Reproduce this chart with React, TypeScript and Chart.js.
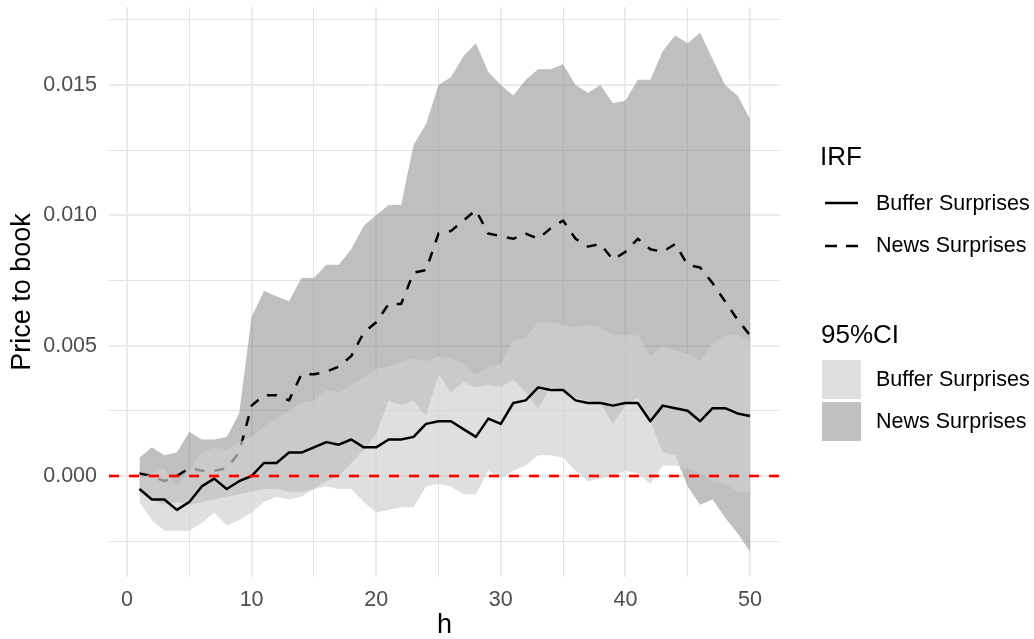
import React, { useEffect, useRef } from "react";
import { Chart, registerables } from "chart.js";

Chart.register(...registerables);

// ---------------- data ----------------
const horizons = [
  1, 2, 3, 4, 5, 6, 7, 8, 9, 10, 11, 12, 13, 14, 15, 16, 17, 18, 19, 20,
  21, 22, 23, 24, 25, 26, 27, 28, 29, 30, 31, 32, 33, 34, 35, 36, 37, 38, 39, 40,
  41, 42, 43, 44, 45, 46, 47, 48, 49, 50,
];

const bufferIRF = [
  -0.0005, -0.0009, -0.0009, -0.0013, -0.001, -0.0004, -0.0001, -0.0005, -0.0002, 0.0,
  0.0005, 0.0005, 0.0009, 0.0009, 0.0011, 0.0013, 0.0012, 0.0014, 0.0011, 0.0011,
  0.0014, 0.0014, 0.0015, 0.002, 0.0021, 0.0021, 0.0018, 0.0015, 0.0022, 0.002,
  0.0028, 0.0029, 0.0034, 0.0033, 0.0033, 0.0029, 0.0028, 0.0028, 0.0027, 0.0028,
  0.0028, 0.0021, 0.0027, 0.0026, 0.0025, 0.0021, 0.0026, 0.0026, 0.0024, 0.0023,
];

const newsIRF = [
  0.0001, 0.0, -0.0002, 0.0, 0.0003, 0.0002, 0.0002, 0.0003, 0.0009, 0.0027,
  0.0031, 0.0031, 0.0029, 0.0039, 0.0039, 0.004, 0.0042, 0.0046, 0.0055, 0.0059,
  0.0066, 0.0066, 0.0078, 0.0079, 0.0093, 0.0094, 0.0098, 0.0102, 0.0093, 0.0092,
  0.0091, 0.0093, 0.0091, 0.0095, 0.0098, 0.0091, 0.0088, 0.0089, 0.0083, 0.0086,
  0.0091, 0.0087, 0.0086, 0.0089, 0.0081, 0.008, 0.0074, 0.0067, 0.006, 0.0054,
];

const newsUpper = [
  0.0007, 0.0011, 0.0008, 0.0009, 0.0017, 0.0014, 0.0014, 0.0015, 0.0024, 0.0061,
  0.0071, 0.0069, 0.0067, 0.0076, 0.0076, 0.0081, 0.0081, 0.0087, 0.0096, 0.01,
  0.0104, 0.0104, 0.0127, 0.0135, 0.015, 0.0153, 0.0161, 0.0166, 0.0155, 0.015,
  0.0146, 0.0152, 0.0156, 0.0156, 0.0158, 0.015, 0.0147, 0.015, 0.0143, 0.0144,
  0.0152, 0.0152, 0.0163, 0.0169, 0.0166, 0.017, 0.016, 0.015, 0.0146, 0.0137,
];

const newsLower = [
  -0.0006, -0.0009, -0.0011, -0.001, -0.0011, -0.001, -0.0009, -0.0008, -0.0007, -0.0006,
  -0.0005, -0.0005, -0.0006, -0.0006, -0.0005, -0.0002, 0.0, 0.0005, 0.001, 0.0016,
  0.0029, 0.0027, 0.0029, 0.0023, 0.0039, 0.0032, 0.0036, 0.0034, 0.0035, 0.0034,
  0.0037, 0.0032, 0.0026, 0.0034, 0.0033, 0.003, 0.0029, 0.0028, 0.002, 0.0027,
  0.003, 0.0021, 0.0009, 0.0008, -0.0004, -0.0011, -0.0009, -0.0016, -0.0022, -0.0029,
];

const bufferUpper = [
  -0.0001, 0.0001, 0.0003, -0.0004, 0.0002, 0.0009, 0.0011, 0.001, 0.0013, 0.0015,
  0.0019, 0.0022, 0.0025, 0.0028, 0.0029, 0.0033, 0.0032, 0.0035, 0.0038, 0.0041,
  0.0042, 0.0044, 0.0045, 0.0044, 0.0046, 0.0045, 0.0043, 0.0039, 0.0042, 0.0043,
  0.0052, 0.0053, 0.0059, 0.0059, 0.0058, 0.0057, 0.0058, 0.0057, 0.0054, 0.0054,
  0.0054, 0.0046, 0.005, 0.0048, 0.0047, 0.0044, 0.0051, 0.0054, 0.0054, 0.0052,
];

const bufferLower = [
  -0.001, -0.0017, -0.0021, -0.0021, -0.0021, -0.0018, -0.0014, -0.0019, -0.0017, -0.0014,
  -0.001, -0.0008, -0.0009, -0.0008, -0.0005, -0.0004, -0.0005, -0.0005, -0.001, -0.0014,
  -0.0013, -0.0012, -0.0012, -0.0004, -0.0003, -0.0004, -0.0007, -0.0007, 0.0002, -0.0001,
  0.0002, 0.0004, 0.0008, 0.0008, 0.0007, 0.0002, -0.0002, -0.0001, 0.0, 0.0002,
  0.0001, -0.0003, 0.0004, 0.0004, 0.0003, 0.0001, -0.0002, -0.0003, -0.0006, -0.0006,
];

const referenceLevel = [0];

const xTicks = [0, 5, 10, 15, 20, 25, 30, 35, 40, 45, 50];
const xLabelTicks = [0, 10, 20, 30, 40, 50];
const yTicks = [-0.0025, 0, 0.0025, 0.005, 0.0075, 0.01, 0.0125, 0.015, 0.0175];
const yLabelTicks = [0, 0.005, 0.01, 0.015];

const X_MIN = -1.445;
const X_MAX = 52.41;
const Y_MIN = -0.003875;
const Y_MAX = 0.017992;

// ---------------- styles ----------------
const FONT = "'Liberation Sans', Arial, Helvetica, sans-serif";
const NEWS_FILL = "rgba(128,128,128,0.5)";
const BUFFER_FILL = "rgba(208,208,208,0.68)";
const NEWS_KEY = "#c0c0c0";
const BUFFER_KEY = "#dfdfdf";
const TRANSPARENT = "rgba(0,0,0,0)";

const near = (list: number[], v: number) => list.some((t) => Math.abs(t - v) < 1e-9);

const pts = (arr: number[]) => horizons.map((h, i) => ({ x: h, y: arr[i] }));

export default function App() {
  const canvasRef = useRef<HTMLCanvasElement | null>(null);

  useEffect(() => {
    if (!canvasRef.current) return;
    const chart = new Chart(canvasRef.current, {
      type: "line",
      data: {
        datasets: [
          {
            label: "News CI upper",
            data: pts(newsUpper),
            fill: "+1",
            backgroundColor: NEWS_FILL,
            borderColor: TRANSPARENT,
            borderWidth: 0,
            pointRadius: 0,
            tension: 0,
            order: 60,
          },
          {
            label: "News CI lower",
            data: pts(newsLower),
            fill: false,
            borderColor: TRANSPARENT,
            borderWidth: 0,
            pointRadius: 0,
            tension: 0,
            order: 59,
          },
          {
            label: "News Surprises",
            data: pts(newsIRF),
            fill: false,
            borderColor: "#000000",
            borderWidth: 2.5,
            borderDash: [10, 10],
            borderJoinStyle: "round",
            borderCapStyle: "butt",
            pointRadius: 0,
            tension: 0,
            order: 50,
          },
          {
            label: "Buffer CI upper",
            data: pts(bufferUpper),
            fill: "+1",
            backgroundColor: BUFFER_FILL,
            borderColor: TRANSPARENT,
            borderWidth: 0,
            pointRadius: 0,
            tension: 0,
            order: 40,
          },
          {
            label: "Buffer CI lower",
            data: pts(bufferLower),
            fill: false,
            borderColor: TRANSPARENT,
            borderWidth: 0,
            pointRadius: 0,
            tension: 0,
            order: 39,
          },
          {
            label: "Buffer Surprises",
            data: pts(bufferIRF),
            fill: false,
            borderColor: "#000000",
            borderWidth: 2.5,
            borderJoinStyle: "round",
            pointRadius: 0,
            tension: 0,
            order: 30,
          },
          {
            label: "zero",
            data: [
              { x: X_MIN, y: referenceLevel[0] },
              { x: X_MAX, y: referenceLevel[0] },
            ],
            fill: false,
            borderColor: "#ff0000",
            borderWidth: 2.7,
            borderDash: [10, 10],
            pointRadius: 0,
            order: 10,
          },
        ],
      },
      options: {
        responsive: false,
        animation: false,
        events: [],
        layout: { padding: { top: 7, right: 254, bottom: 0, left: 0 } },
        plugins: {
          legend: { display: false },
          tooltip: { enabled: false },
          filler: { propagate: false },
        },
        scales: {
          x: {
            type: "linear",
            min: X_MIN,
            max: X_MAX,
            afterBuildTicks: (s: any) => {
              s.ticks = xTicks.map((v) => ({ value: v }));
            },
            afterFit: (s: any) => {
              s.height = 62;
              s.paddingLeft = 0;
              s.paddingRight = 0;
            },
            border: { display: false },
            grid: {
              drawTicks: false,
              color: (c: any) => (near(xLabelTicks, c.tick?.value) ? "#ebebeb" : "#e3e3e3"),
              lineWidth: (c: any) => (near(xLabelTicks, c.tick?.value) ? 2 : 1),
            },
            ticks: {
              autoSkip: false,
              maxRotation: 0,
              padding: 10,
              color: "#4d4d4d",
              font: { family: FONT, size: 21.5 },
              callback: (v: any) => (near(xLabelTicks, Number(v)) ? String(Number(v)) : ""),
            },
            title: {
              display: true,
              text: "h",
              color: "#000000",
              font: { family: FONT, size: 27, lineHeight: 1 },
              padding: { top: 0, bottom: 0 },
            },
          },
          y: {
            type: "linear",
            min: Y_MIN,
            max: Y_MAX,
            afterBuildTicks: (s: any) => {
              s.ticks = yTicks.map((v) => ({ value: v }));
            },
            afterFit: (s: any) => {
              s.width = 109;
              s.paddingTop = 0;
              s.paddingBottom = 0;
            },
            border: { display: false },
            grid: {
              drawTicks: false,
              color: (c: any) => (near(yLabelTicks, c.tick?.value) ? "#ebebeb" : "#e3e3e3"),
              lineWidth: (c: any) => (near(yLabelTicks, c.tick?.value) ? 2 : 1),
            },
            ticks: {
              padding: 12,
              color: "#4d4d4d",
              font: { family: FONT, size: 21.5 },
              callback: (v: any) => (near(yLabelTicks, Number(v)) ? Number(v).toFixed(3) : ""),
            },
            title: {
              display: true,
              text: "Price to book",
              color: "#000000",
              font: { family: FONT, size: 27, lineHeight: 1 },
              padding: { top: 9, bottom: 0 },
            },
          },
        },
      },
    } as any);
    return () => chart.destroy();
  }, []);

  const text = (content: string, left: number, top: number, size: number) => (
    <div
      style={{
        position: "absolute",
        left,
        top,
        fontFamily: FONT,
        fontSize: size,
        lineHeight: `${size}px`,
        color: "#000",
        whiteSpace: "nowrap",
      }}
    >
      {content}
    </div>
  );

  return (
    <div
      style={{
        position: "fixed",
        left: 0,
        top: 0,
        width: 1034,
        height: 639,
        background: "#ffffff",
        overflow: "hidden",
      }}
    >
      <canvas
        ref={canvasRef}
        width={1034}
        height={639}
        style={{ position: "absolute", left: 0, top: 0, width: 1034, height: 639 }}
      />
      {text("IRF", 820, 143, 26)}
      <svg
        style={{ position: "absolute", left: 0, top: 0 }}
        width={1034}
        height={639}
      >
        <line x1={825} x2={858} y1={203} y2={203} stroke="#000" strokeWidth={2.5} />
        <line
          x1={825}
          x2={858}
          y1={246}
          y2={246}
          stroke="#000"
          strokeWidth={2.5}
          strokeDasharray="12 9"
        />
        <rect x={822} y={360} width={39} height={39} fill={BUFFER_KEY} />
        <rect x={822} y={402} width={39} height={39} fill={NEWS_KEY} />
      </svg>
      {text("Buffer Surprises", 876, 193, 21.5)}
      {text("News Surprises", 876, 235, 21.5)}
      {text("95%CI", 821, 321, 26)}
      {text("Buffer Surprises", 876, 369, 21.5)}
      {text("News Surprises", 876, 411, 21.5)}
    </div>
  );
}
